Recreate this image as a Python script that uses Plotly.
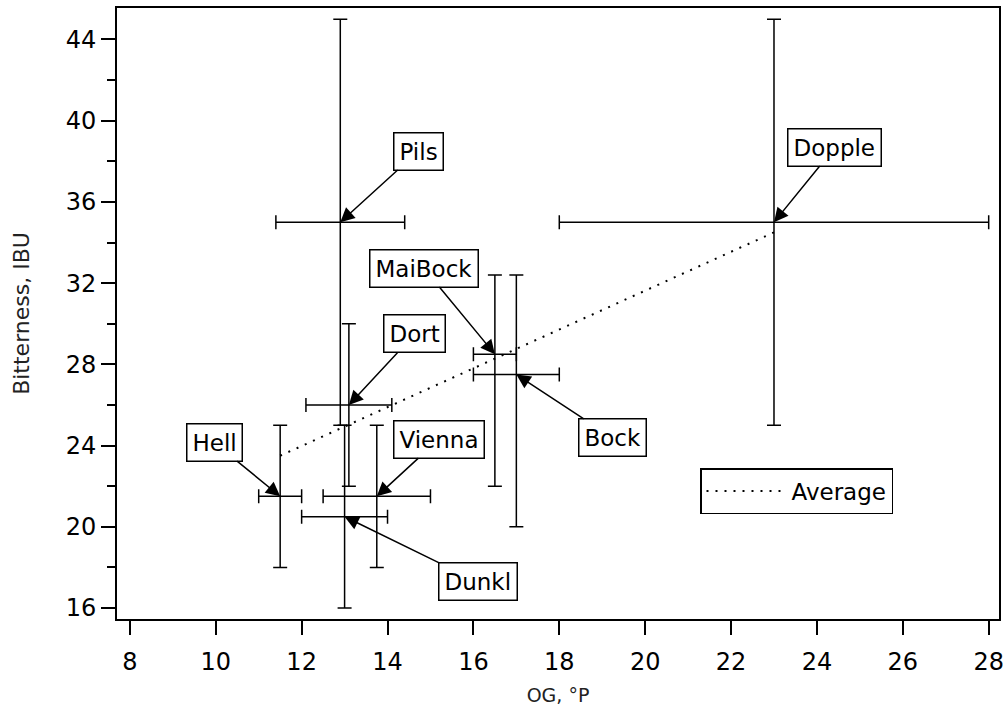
import plotly.graph_objects as go

# ---- data ----
styles = ["Hell", "Pils", "Dort", "Dunkl", "Vienna", "MaiBock", "Bock", "Dopple"]
og_mid = [11.5, 12.9, 13.1, 13.0, 13.75, 16.5, 17.0, 23.0]
og_low = [11.0, 11.4, 12.1, 12.0, 12.5, 16.0, 16.0, 18.0]
og_high = [12.0, 14.4, 14.1, 14.0, 15.0, 17.0, 18.0, 28.0]
ibu_mid = [21.5, 35.0, 26.0, 20.5, 21.5, 28.5, 27.5, 35.0]
ibu_low = [18.0, 25.0, 22.0, 16.0, 18.0, 22.0, 20.0, 25.0]
ibu_high = [25.0, 45.0, 30.0, 25.0, 25.0, 32.4, 32.4, 45.0]

avg_og = [11.5, 23.0]
avg_ibu = [23.5, 34.5]

# label offsets (pixels) of each text box from its point
label_dx = [-66, 78, 66, 133, 62, -71, 96, 61]
label_dy = [-54, -71, -71, 65, -57, -86, 63, -75]

x_ticks = [8, 10, 12, 14, 16, 18, 20, 22, 24, 26, 28]
y_ticks = [16, 20, 24, 28, 32, 36, 40, 44]

FONT = "DejaVu Sans"

fig = go.Figure()

fig.add_trace(go.Scatter(
    x=og_mid, y=ibu_mid, mode="markers",
    marker=dict(size=1, color="black"),
    error_x=dict(type="data", symmetric=False,
                 array=[h - m for h, m in zip(og_high, og_mid)],
                 arrayminus=[m - l for m, l in zip(og_mid, og_low)],
                 color="black", thickness=1.5, width=7),
    error_y=dict(type="data", symmetric=False,
                 array=[h - m for h, m in zip(ibu_high, ibu_mid)],
                 arrayminus=[m - l for m, l in zip(ibu_mid, ibu_low)],
                 color="black", thickness=1.5, width=7),
    showlegend=False, hoverinfo="skip",
))

fig.add_trace(go.Scatter(
    x=avg_og, y=avg_ibu, mode="lines", name="Average",
    line=dict(color="black", width=2, dash="2px,7px"),
))

for name, x, y, dx, dy in zip(styles, og_mid, ibu_mid, label_dx, label_dy):
    fig.add_annotation(
        x=x, y=y, ax=dx, ay=dy, text=name, showarrow=True,
        arrowhead=2, arrowsize=1.9, arrowwidth=1.5, arrowcolor="black",
        bordercolor="black", borderwidth=1.5, borderpad=5, bgcolor="white",
        font=dict(family=FONT, size=23, color="black"),
    )

fig.update_layout(
    width=1008, height=717,
    margin=dict(l=117, r=9, t=8, b=98),
    plot_bgcolor="white", paper_bgcolor="white",
    font=dict(family=FONT, color="black"),
    legend=dict(x=0.661, y=0.247, xanchor="left", yanchor="top",
                bgcolor="white", bordercolor="black", borderwidth=1.5,
                itemwidth=80,
                font=dict(family=FONT, size=23, color="black")),
)

fig.update_xaxes(
    range=[7.70, 28.24], tickvals=x_ticks, ticktext=[str(v) for v in x_ticks],
    ticks="outside", ticklen=14, tickwidth=2, tickcolor="black",
    ticklabelstandoff=6, automargin=False,
    showline=True, linecolor="black", linewidth=2, mirror=True,
    showgrid=False, zeroline=False,
    tickfont=dict(family=FONT, size=24, color="black"),
    title=dict(text="OG, °P", font=dict(family=FONT, size=19, color="#222"), standoff=14),
)
fig.update_yaxes(
    range=[15.46, 45.55], tickvals=y_ticks, ticktext=[str(v) for v in y_ticks],
    ticks="outside", ticklen=14, tickwidth=2, tickcolor="black",
    minor=dict(dtick=2, tick0=0, ticks="outside", ticklen=8, tickwidth=2, tickcolor="black"),
    showline=True, linecolor="black", linewidth=2, mirror=True,
    showgrid=False, zeroline=False, automargin=False,
    tickfont=dict(family=FONT, size=24, color="black"),
    title=dict(text="Bitterness, IBU", font=dict(family=FONT, size=22, color="#222"), standoff=30),
)

fig.write_html("out.html")
